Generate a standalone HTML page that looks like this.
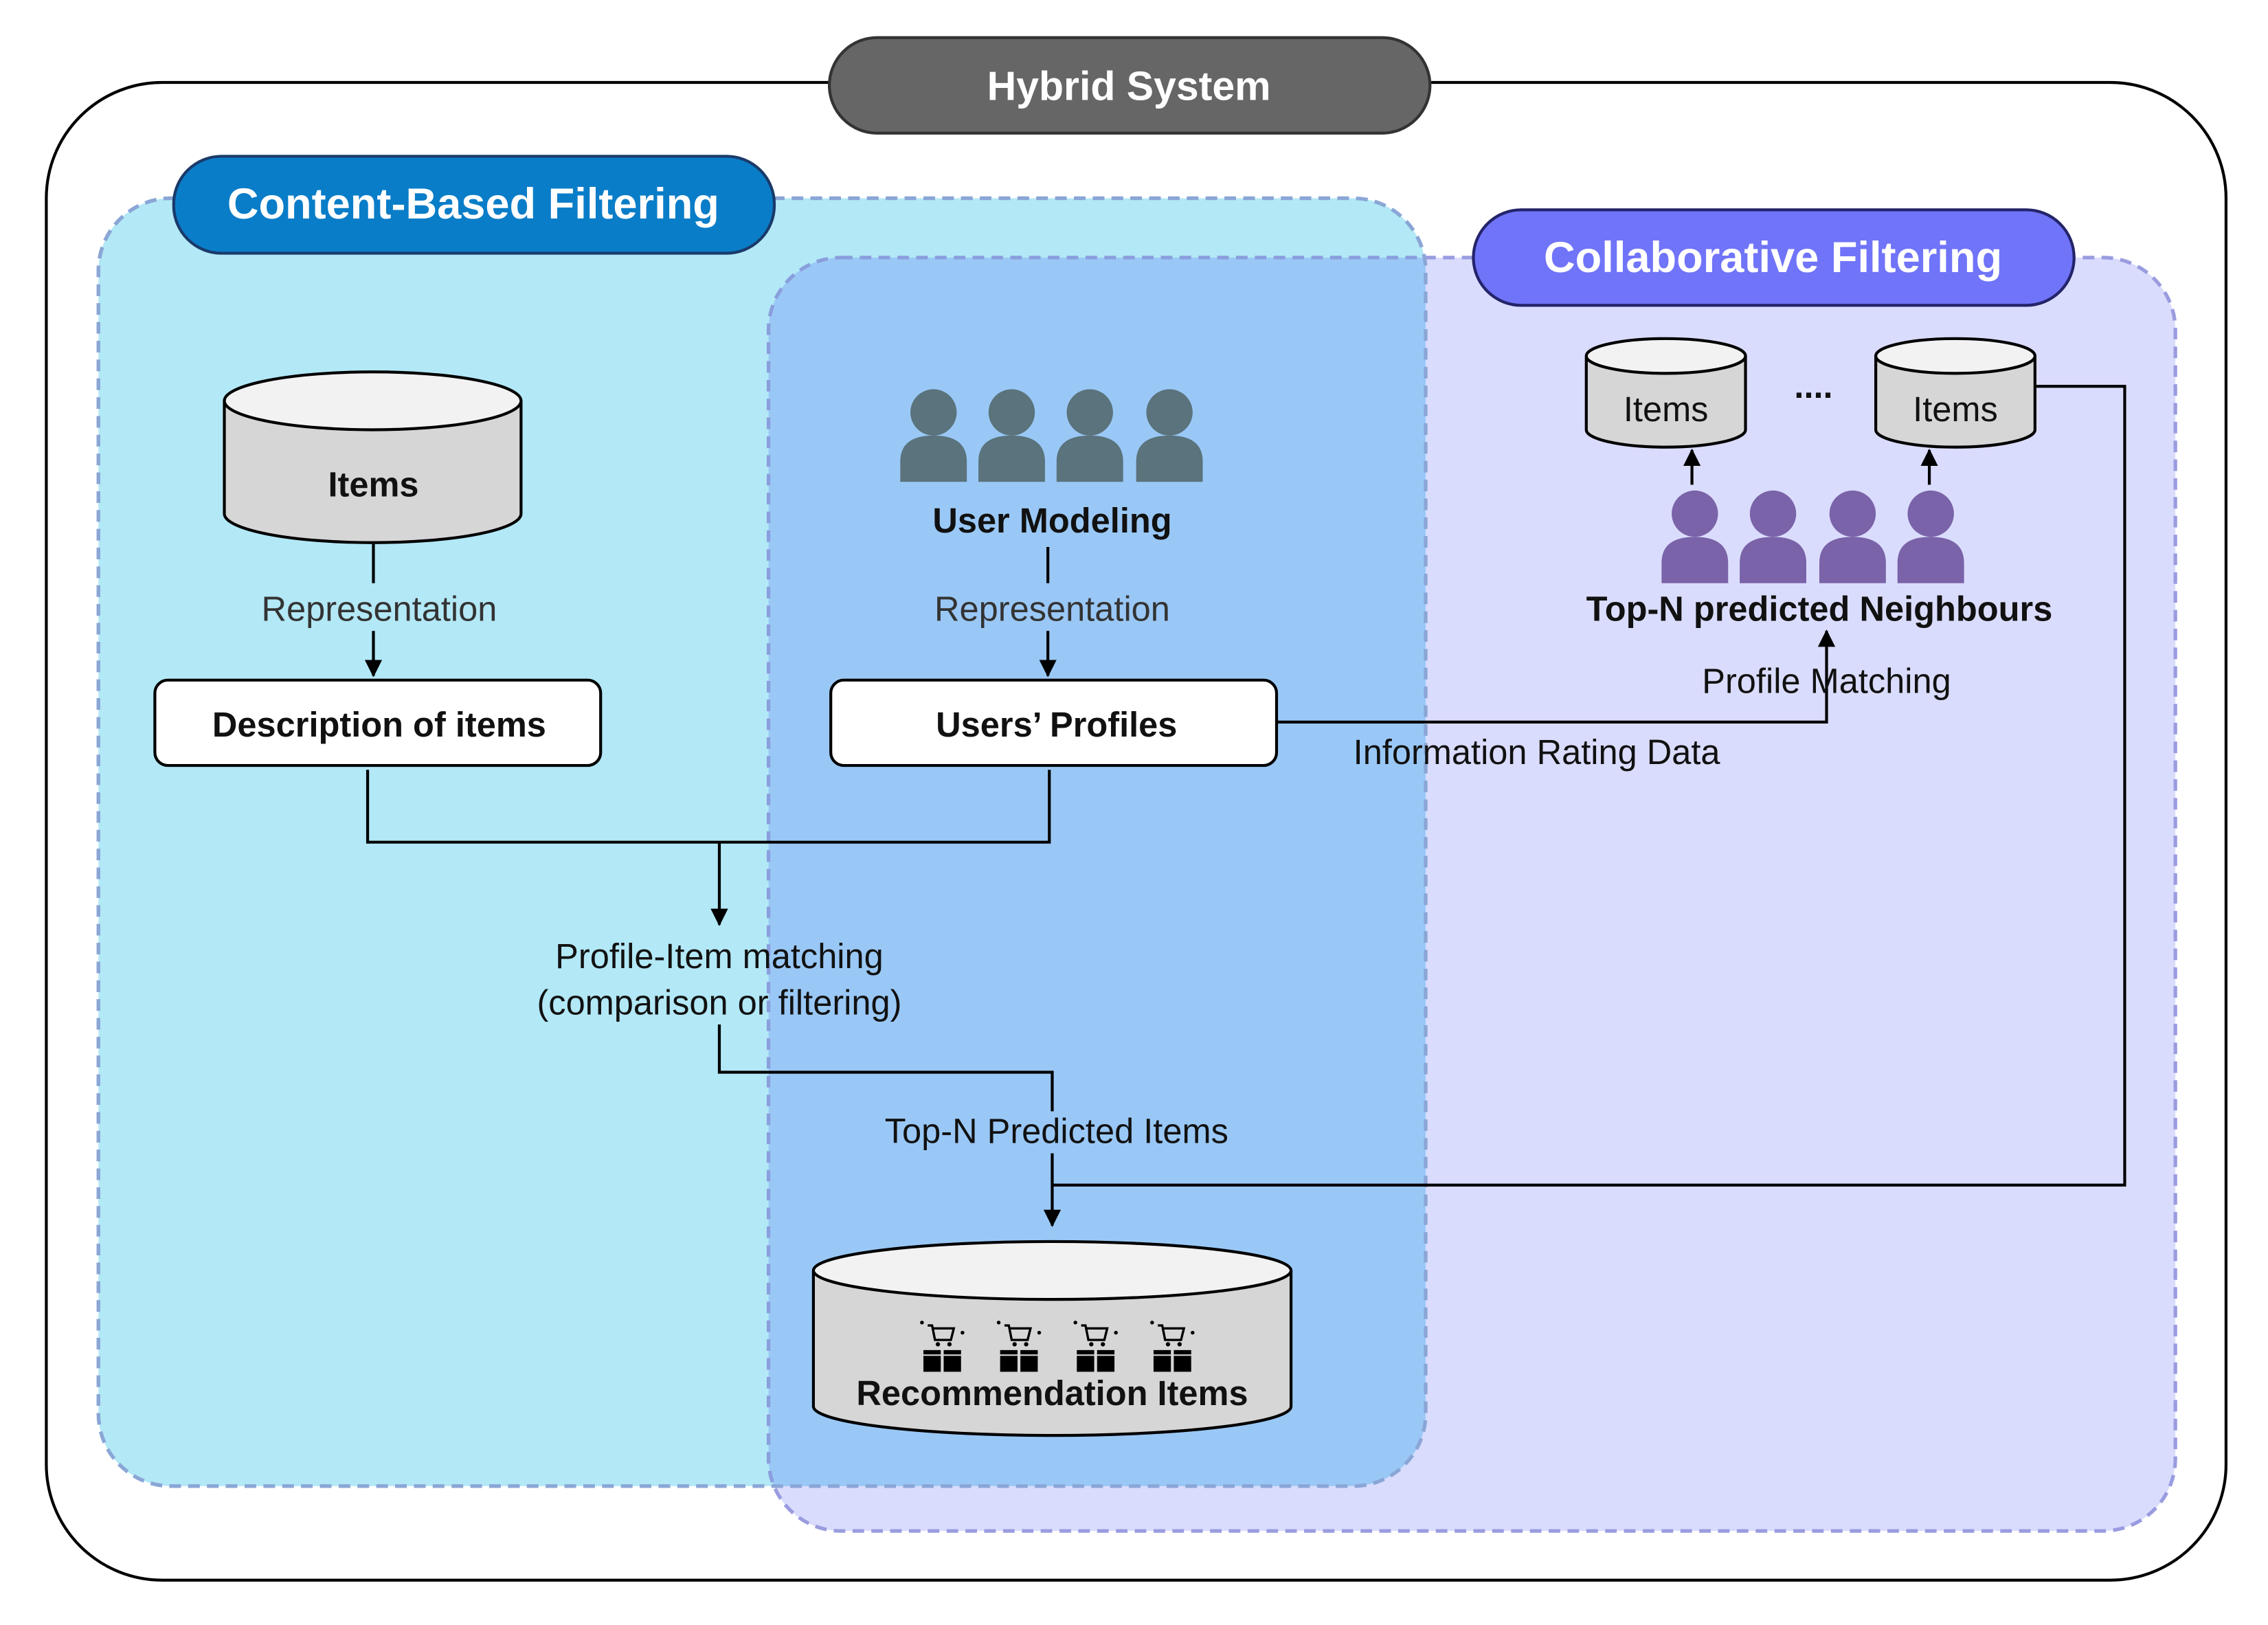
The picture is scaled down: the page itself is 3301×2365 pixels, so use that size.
<!DOCTYPE html>
<html><head><meta charset="utf-8"><style>html,body{margin:0;padding:0;background:#fff}svg{display:block}</style></head>
<body>
<svg width="3301" height="2365" viewBox="0 0 1567 1123" preserveAspectRatio="none" xmlns="http://www.w3.org/2000/svg" font-family="Liberation Sans, Arial, sans-serif">
<defs>
<marker id="ar" markerWidth="12" markerHeight="12" refX="11" refY="6" orient="auto" markerUnits="userSpaceOnUse" viewBox="0 0 12 12"><path d="M0,0 L12,6 L0,12 z" fill="#000"/></marker>
<clipPath id="cbf"><rect x="68" y="137" width="917" height="890" rx="50"/></clipPath>
<g id="pd"><circle cx="0" cy="0" r="16"/><path d="M-23,48 L-23,34 Q-23,16 0,16 Q23,16 23,34 L23,48 z"/></g>
<g id="cart" fill="#000"><circle cx="-14" cy="-10" r="1.3"/><circle cx="14" cy="-3" r="1.3"/><path d="M-10,-8 L-7,-8 L-5,2 L6,2 L8,-6 L-6,-6" fill="none" stroke="#000" stroke-width="1.6"/><circle cx="-3" cy="5" r="1.5"/><circle cx="5" cy="5" r="1.5"/><rect x="-13" y="9" width="12" height="3"/><rect x="1" y="9" width="12" height="3"/><rect x="-13" y="13" width="12" height="11"/><rect x="1" y="13" width="12" height="11"/></g>
</defs>
<rect x="32" y="57" width="1506" height="1035" rx="80" fill="#fff" stroke="#000" stroke-width="2"/>
<rect x="573" y="26" width="415" height="66" rx="33" fill="#666" stroke="#333" stroke-width="2"/>
<text x="780" y="69" text-anchor="middle" font-size="28" font-weight="bold" fill="#fff">Hybrid System</text>

<rect x="531" y="178" width="972" height="880" rx="50" fill="#dadcfd" stroke="#9a9ce0" stroke-width="2.5" stroke-dasharray="8,5"/>
<rect x="68" y="137" width="917" height="890" rx="50" fill="#b3e8f6" stroke="#8fb0cf" stroke-width="2.5" stroke-dasharray="8,5"/>
<rect x="531" y="178" width="972" height="880" rx="50" fill="#9ac8f6" stroke="#8a9edd" stroke-width="2.5" stroke-dasharray="8,5" clip-path="url(#cbf)"/>
<rect x="68" y="137" width="917" height="890" rx="50" fill="none" stroke="#8aa6d6" stroke-width="2.5" stroke-dasharray="8,5"/>

<rect x="120" y="108" width="415" height="67" rx="33" fill="#0a7dc8" stroke="#1a3a6a" stroke-width="2"/>
<text x="327" y="151" text-anchor="middle" font-size="30" font-weight="bold" fill="#fff">Content-Based Filtering</text>
<rect x="1018" y="145" width="415" height="66" rx="33" fill="#7074f8" stroke="#23246a" stroke-width="2"/>
<text x="1225" y="188" text-anchor="middle" font-size="30" font-weight="bold" fill="#fff">Collaborative Filtering</text>

<path d="M155,277 L155,355 A102.5,20 0 0 0 360,355 L360,277" fill="#d6d6d6" stroke="#000" stroke-width="2"/>
<ellipse cx="257.5" cy="277" rx="102.5" ry="20" fill="#f2f2f2" stroke="#000" stroke-width="2"/>
<text x="258" y="343" text-anchor="middle" font-size="24" font-weight="bold" fill="#111">Items</text>
<line x1="258" y1="376" x2="258" y2="403" stroke="#000" stroke-width="2"/>
<line x1="258" y1="436" x2="258" y2="467" stroke="#000" stroke-width="2" marker-end="url(#ar)"/>
<text x="262" y="429" text-anchor="middle" font-size="24" fill="#333">Representation</text>

<rect x="107" y="470" width="308" height="59" rx="9" fill="#fff" stroke="#000" stroke-width="2"/>
<text x="262" y="509" text-anchor="middle" font-size="24" font-weight="bold" fill="#111">Description of items</text>
<rect x="574" y="470" width="308" height="59" rx="9" fill="#fff" stroke="#000" stroke-width="2"/>
<text x="730" y="509" text-anchor="middle" font-size="24" font-weight="bold" fill="#111">Users’ Profiles</text>

<g fill="#5a737c"><use href="#pd" x="645" y="285"/><use href="#pd" x="699" y="285"/><use href="#pd" x="753" y="285"/><use href="#pd" x="808" y="285"/></g>
<text x="727" y="368" text-anchor="middle" font-size="24" font-weight="bold" fill="#111">User Modeling</text>
<line x1="724" y1="378" x2="724" y2="403" stroke="#000" stroke-width="2"/>
<line x1="724" y1="436" x2="724" y2="467" stroke="#000" stroke-width="2" marker-end="url(#ar)"/>
<text x="727" y="429" text-anchor="middle" font-size="24" fill="#333">Representation</text>

<polyline points="254,532 254,582 725,582 725,532" fill="none" stroke="#000" stroke-width="2"/>
<line x1="497" y1="582" x2="497" y2="639" stroke="#000" stroke-width="2" marker-end="url(#ar)"/>
<text x="497" y="669" text-anchor="middle" font-size="24" fill="#111">Profile-Item matching</text>
<text x="497" y="701" text-anchor="middle" font-size="24" fill="#111">(comparison or filtering)</text>
<polyline points="497,708 497,741 727,741 727,768" fill="none" stroke="#000" stroke-width="2"/>
<text x="730" y="790" text-anchor="middle" font-size="24" fill="#111">Top-N Predicted Items</text>
<line x1="727" y1="797" x2="727" y2="847" stroke="#000" stroke-width="2" marker-end="url(#ar)"/>
<polyline points="1407,267 1468,267 1468,819 727,819" fill="none" stroke="#000" stroke-width="2"/>

<path d="M562,878 L562,972 A165,20 0 0 0 892,972 L892,878" fill="#d6d6d6" stroke="#000" stroke-width="2"/>
<ellipse cx="727" cy="878" rx="165" ry="20" fill="#f2f2f2" stroke="#000" stroke-width="2"/>
<use href="#cart" x="651" y="924"/><use href="#cart" x="704" y="924"/><use href="#cart" x="757" y="924"/><use href="#cart" x="810" y="924"/>
<text x="727" y="971" text-anchor="middle" font-size="24" font-weight="bold" fill="#111">Recommendation Items</text>

<polyline points="882,499 1262,499 1262,436" fill="none" stroke="#000" stroke-width="2" marker-end="url(#ar)"/>
<text x="935" y="528" font-size="24" fill="#111">Information Rating Data</text>
<text x="1262" y="479" text-anchor="middle" font-size="24" fill="#111">Profile Matching</text>
<g fill="#7a63a8"><use href="#pd" x="1171" y="355"/><use href="#pd" x="1225" y="355"/><use href="#pd" x="1280" y="355"/><use href="#pd" x="1334" y="355"/></g>
<text x="1257" y="429" text-anchor="middle" font-size="24" font-weight="bold" fill="#111">Top-N predicted Neighbours</text>

<path d="M1096,246 L1096,297 A55,12 0 0 0 1206,297 L1206,246" fill="#d6d6d6" stroke="#000" stroke-width="2"/>
<ellipse cx="1151" cy="246" rx="55" ry="12" fill="#f2f2f2" stroke="#000" stroke-width="2"/>
<text x="1151" y="291" text-anchor="middle" font-size="24" fill="#111">Items</text>
<path d="M1296,246 L1296,297 A55,12 0 0 0 1406,297 L1406,246" fill="#d6d6d6" stroke="#000" stroke-width="2"/>
<ellipse cx="1351" cy="246" rx="55" ry="12" fill="#f2f2f2" stroke="#000" stroke-width="2"/>
<text x="1351" y="291" text-anchor="middle" font-size="24" fill="#111">Items</text>
<text x="1253" y="275" text-anchor="middle" font-size="24" font-weight="bold" fill="#111">....</text>
<line x1="1169" y1="335" x2="1169" y2="311" stroke="#000" stroke-width="2" marker-end="url(#ar)"/>
<line x1="1333" y1="335" x2="1333" y2="311" stroke="#000" stroke-width="2" marker-end="url(#ar)"/>
</svg>
</body></html>
